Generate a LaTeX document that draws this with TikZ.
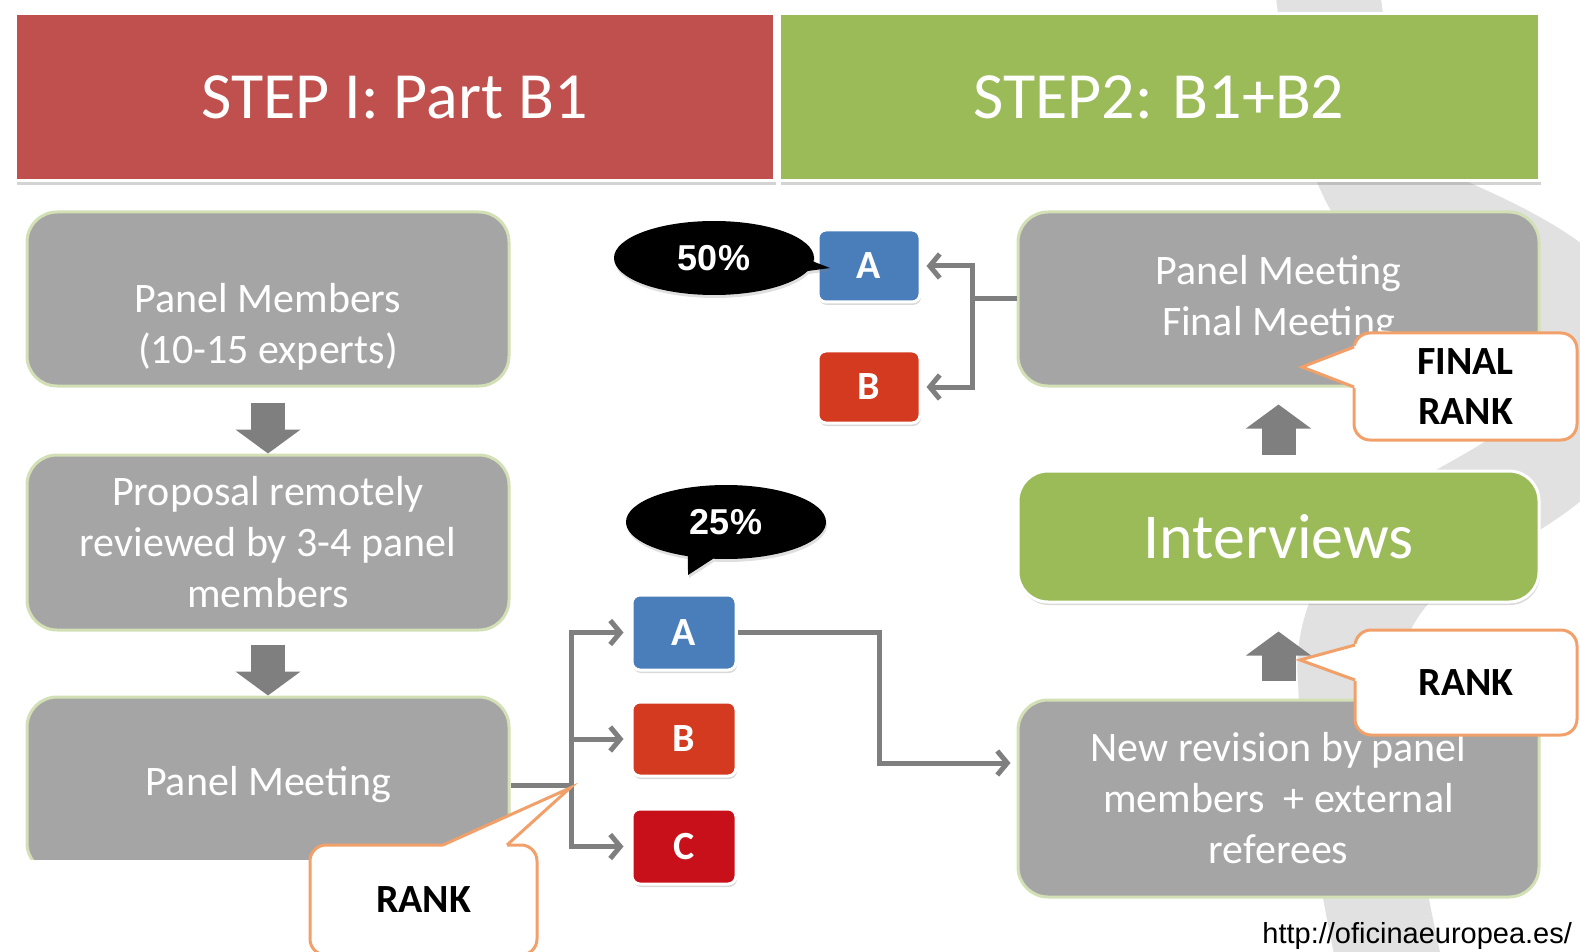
\documentclass[tikz,border=0pt]{standalone}
\usepackage{fontspec}
\setmainfont{Carlito}
\newfontfamily\arialfont{Liberation Sans}
\usetikzlibrary{arrows.meta,shapes.callouts,shadows,calc}
\definecolor{hdrred}{HTML}{C0504D}
\definecolor{hdrgreen}{HTML}{9BBB59}
\definecolor{boxgray}{HTML}{A5A5A5}
\definecolor{boxedge}{HTML}{D3E0B5}
\definecolor{arrowgray}{HTML}{7F7F7F}
\definecolor{ablue}{HTML}{4A7EBB}
\definecolor{bred}{HTML}{D43A1F}
\definecolor{cred}{HTML}{C8101A}
\definecolor{corange}{HTML}{F2A06A}
\definecolor{swooshgray}{HTML}{E1E1E1}
\begin{document}
\begin{tikzpicture}[x=0.5pt,y=-0.5pt,
  hdr/.style={draw=white, line width=1.5pt, text=white, inner sep=0pt,
    font=\fontsize{33}{40}\selectfont,
    drop shadow={shadow xshift=1pt, shadow yshift=-2pt, opacity=0.35}},
  gbox/.style={rounded corners=15pt, fill=boxgray, draw=boxedge, line width=1.5pt,
    text=white, align=center, inner sep=0pt, font=\fontsize{21}{25.5}\selectfont},
  gtext/.style={text=white, align=center, inner sep=0pt, font=\fontsize{21}{25.5}\selectfont},
  ibox/.style={rounded corners=15pt, fill=hdrgreen, draw=white, line width=1.5pt,
    text=white, inner sep=0pt, font=\fontsize{32}{38}\selectfont,
    drop shadow={shadow xshift=0.5pt, shadow yshift=-1.5pt, opacity=0.3}},
  lbox/.style={rounded corners=4pt, draw=white, line width=1.5pt, text=white, inner sep=0pt,
    font=\bfseries\fontsize{20}{24}\selectfont,
    drop shadow={shadow xshift=0.5pt, shadow yshift=-1.5pt, opacity=0.3}},
  conn/.style={draw=arrowgray, line width=2.5pt},
  carrow/.style={-{Straight Barb[length=5pt,width=12pt]}},
  barrow/.style={draw=arrowgray, line width=17pt, -{Triangle[length=12pt,width=32pt]}},
  bubble/.style={ellipse callout, fill=black, text=white, inner sep=0pt,
    font=\arialfont\bfseries\fontsize{18}{20}\selectfont,
    minimum width=100pt, minimum height=37pt,
    drop shadow={shadow xshift=0.5pt, shadow yshift=-1.5pt, opacity=0.25}},
  cbox/.style={rounded corners=8pt, fill=white, draw=corange, line width=1.5pt,
    align=center, inner sep=0pt, font=\bfseries\fontsize{20}{25}\selectfont},
  ctail/.style={draw=corange, line width=1.5pt, line join=miter}
]
\useasboundingbox (0,0) rectangle (1580,952);
\clip (0,0) rectangle (1580,952);

% background swoosh
\draw[swooshgray, line width=52pt]
  (1325,-30) .. controls (1340,100) and (1360,170) .. (1390,205)
  .. controls (1520,260) and (1610,300) .. (1600,380)
  .. controls (1590,460) and (1480,500) .. (1420,540)
  .. controls (1370,580) and (1345,630) .. (1350,680)
  .. controls (1355,800) and (1375,900) .. (1395,990);

% headers
\node[hdr, fill=hdrred, minimum width=379.5pt, minimum height=83.5pt] (h1) at (394.5,97.5) {STEP I: Part B1};
\node[hdr, fill=hdrgreen, minimum width=380pt, minimum height=83.5pt] (h2) at (1159,97.5) {STEP2: B1+B2};

% left column
\node[gbox, minimum width=241pt, minimum height=87pt] (pm) at (268,299) {};
\node[gtext] (pmt) at (268,327) {Panel Members\\(10-15 experts)};
\node[gbox, minimum width=241pt, minimum height=87.5pt] (prop) at (268,542.5) {Proposal remotely\\reviewed by 3-4 panel\\members};
\node[gbox, minimum width=241pt, minimum height=88pt] (pmeet) at (268,785) {Panel Meeting};
\fill[white] (0,860) rectangle (545,960);

\draw[barrow] ($(pm.south)+(0,15)$) -- (prop.north);
\draw[barrow] ($(prop.south)+(0,13)$) -- (pmeet.north);

% A B C
\node[lbox, fill=ablue, minimum width=52pt, minimum height=37.5pt] (a1) at (684,632.5) {A};
\node[lbox, fill=bred, minimum width=52pt, minimum height=37pt] (b1) at (684,739) {B};
\node[lbox, fill=cred, minimum width=52pt, minimum height=37.5pt] (c1) at (684,846.5) {C};

\coordinate (j1) at (571,785);
\draw[conn] (pmeet.east) -- (j1);
\draw[conn,carrow] (j1) |- ($(a1.west)+(-7,0)$);
\draw[conn,carrow] (j1) |- ($(b1.west)+(-7,0)$);
\draw[conn,carrow] (j1) |- ($(c1.west)+(-7,0)$);

\node[bubble, callout absolute pointer={(688,575)}] (p25) at (726,522) {25\%};

% right column
\node[gbox, minimum width=260.5pt, minimum height=87pt] (fin) at (1278.5,299) {Panel Meeting\\Final Meeting};
\node[ibox, minimum width=260.5pt, minimum height=65.5pt] (int) at (1278.5,536.5) {Interviews};
\node[gbox, minimum width=260.5pt, minimum height=98.5pt] (rev) at (1278.5,798.5) {New revision by panel\\members\ \ + external\\referees};

\draw[barrow] ($(rev.north)+(0,-18)$) -- ($(int.south)+(0,28)$);
\draw[barrow] ($(int.north)+(0,-15)$) -- ($(fin.south)+(0,17)$);

\coordinate (k1) at (879,763);
\draw[conn,carrow] (a1.east) -| (k1) -- ($(k1 -| rev.west)+(-6,0)$);

\node[lbox, fill=ablue, minimum width=51pt, minimum height=36pt] (a2) at (869,266) {A};
\node[lbox, fill=bred, minimum width=51pt, minimum height=36pt] (b2) at (869,387) {B};
\coordinate (j2) at (972,299);
\draw[conn] (fin.west) -- (j2);
\draw[conn,carrow] (j2) |- ($(a2.east)+(5,0)$);
\draw[conn,carrow] (j2) |- ($(b2.east)+(5,0)$);

\node[bubble, callout absolute pointer={(830,268)}] (p50) at (714,258) {50\%};

% callouts
\node[cbox, minimum width=111.5pt, minimum height=53.5pt] (cfin) at (1465.5,386.5) {FINAL\\RANK};
\fill[white] (1358,345) -- (1302,367) -- (1358,389) -- cycle;
\draw[ctail] (1354,347) -- (1302,367) -- (1354,387);

\node[cbox, minimum width=111pt, minimum height=52.5pt] (crank) at (1466,682.5) {RANK};
\fill[white] (1359,643) -- (1300,660) -- (1359,682) -- cycle;
\draw[ctail] (1355,645) -- (1300,660) -- (1355,680);

\node[cbox, minimum width=113.5pt, minimum height=55pt] (crank2) at (423.5,900) {RANK};
\fill[white] (443,845) -- (570,788) -- (507,845) -- (507,849) -- (443,849) -- cycle;
\draw[ctail] (443,845) -- (570,788) -- (507,845);

% url
\node[anchor=base west, inner sep=0pt, font=\arialfont\fontsize{14.5}{17}\selectfont] (url) at (1262,943) {http://oficinaeuropea.es/};
\end{tikzpicture}
\end{document}
